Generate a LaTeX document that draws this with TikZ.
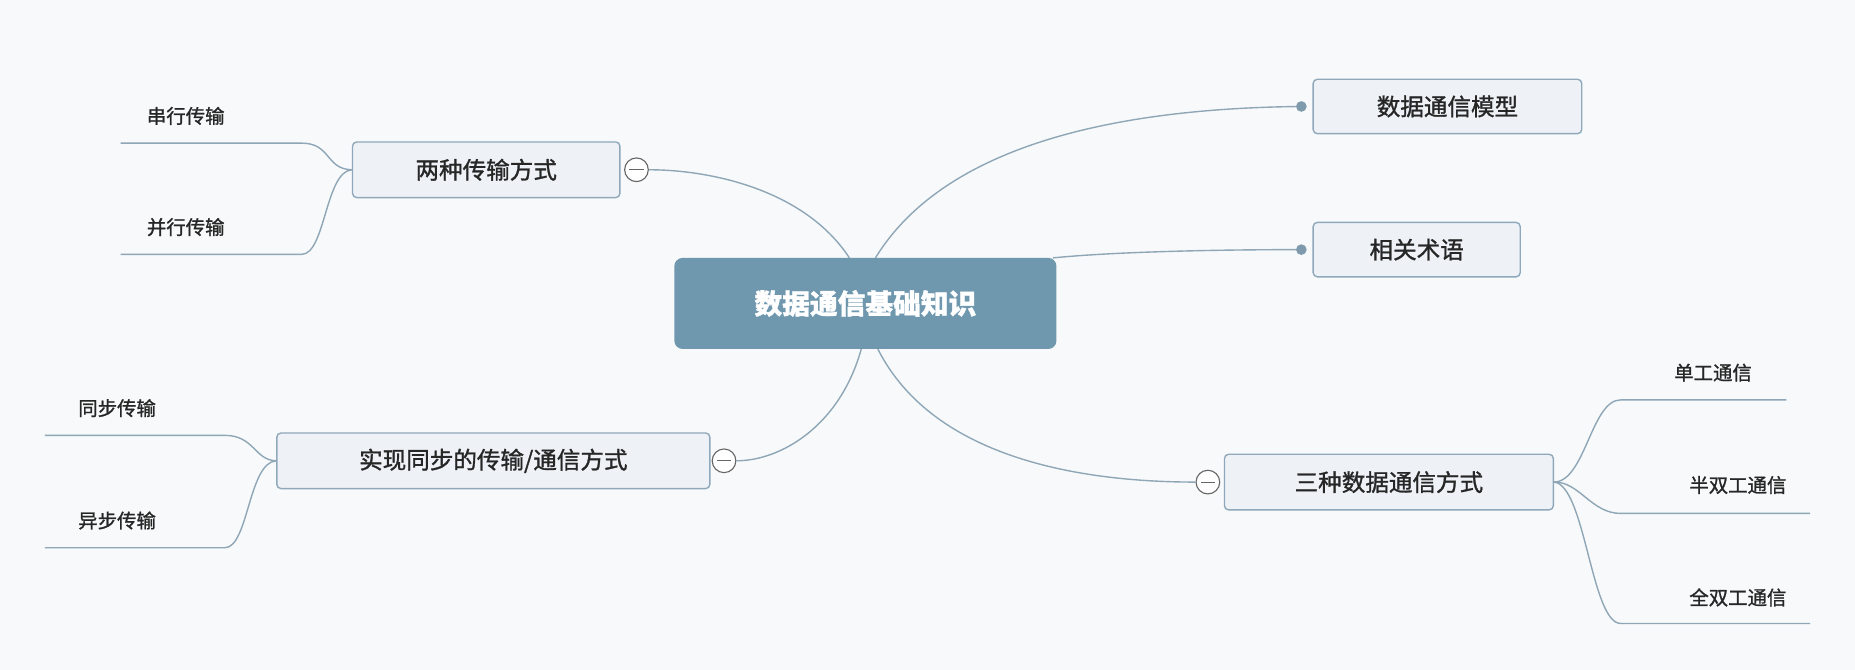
\documentclass[tikz,border=0pt]{standalone}
\usepackage{fontspec}
\setmainfont{Noto Sans CJK SC}[FakeBold=1.2]
\begin{document}
\begin{tikzpicture}[x=0.03cm,y=-0.03cm,
  bx/.style={draw=boxline,fill=boxfill,rounded corners=3pt,line width=1pt,inner sep=0pt,font=\fontsize{17}{19}\selectfont,text=black!85},
  lf/.style={inner sep=0pt,font=\fontsize{14}{16}\selectfont,text=black!85},
  ln/.style={draw=conn,line width=1pt},
  cc/.style={circle,draw=gray!80!black,fill=white,line width=0.8pt,minimum size=0.6cm,inner sep=0pt},
  dt/.style={circle,fill=dotc,minimum size=0.27cm,inner sep=0pt}]
\definecolor{bg}{HTML}{F7F9FA}
\definecolor{boxfill}{HTML}{EEF2F6}
\definecolor{boxline}{HTML}{8FA8BB}
\definecolor{conn}{HTML}{8EA6B6}
\definecolor{cen}{HTML}{6F98AF}
\definecolor{dotc}{HTML}{7F9AAD}
\fill[bg] (0,0) rectangle (1568,566);
\useasboundingbox (0,0) rectangle (1568,566);
% central
\node[fill=cen,rounded corners=6pt,minimum width=323*0.03cm,minimum height=77*0.03cm,text=white,font=\fontsize{20}{22}\selectfont\bfseries] (c) at (731.5,256.5) {数据通信基础知识};
% right
\node[bx,minimum width=227*0.03cm,minimum height=46*0.03cm] (m) at (1223.5,90) {数据通信模型};
\node[dt] (dm) at (1100,90) {};
\node[bx,minimum width=175*0.03cm,minimum height=46*0.03cm] (t) at (1197.5,211) {相关术语};
\node[dt] (dtt) at (1100,211) {};
\node[bx,minimum width=278*0.03cm,minimum height=47*0.03cm] (s) at (1174,407.5) {三种数据通信方式};
\node[cc] (cs) at (1021,407.5) {};
\draw[gray!80!black,line width=0.8pt] (1015,407.5) -- (1027,407.5);
% left
\node[bx,minimum width=226*0.03cm,minimum height=47*0.03cm] (l) at (411,143.5) {两种传输方式};
\node[cc] (cl) at (538,143.5) {};
\draw[gray!80!black,line width=0.8pt] (532,143.5) -- (544,143.5);
\node[bx,minimum width=366*0.03cm,minimum height=47*0.03cm] (r) at (417,389.5) {实现同步的传输/通信方式};
\node[cc] (cr) at (612,389.5) {};
\draw[gray!80!black,line width=0.8pt] (606,389.5) -- (618,389.5);
% main connectors
\coordinate (c1) at (740,218); \coordinate (c2) at (890,218);
\coordinate (c3) at (742,295); \coordinate (c4) at (718,218); \coordinate (c5) at (728,295);
\draw[ln] (c1) .. controls (800,120) and (950,92) .. (dm);
\draw[ln] (c2) .. controls (950,212) and (1050,211) .. (dtt);
\draw[ln] (c3) .. controls (790,390) and (920,407.5) .. (cs.west);
\draw[ln] (c4) .. controls (680,160) and (600,143.5) .. (cl.east);
\draw[ln] (c5) .. controls (710,360) and (660,389.5) .. (cr.east);
% right leaves
\node[lf] (a1) at (1448,315) {单工通信};
\node[lf] (a2) at (1469,410) {半双工通信};
\node[lf] (a3) at (1469,505) {全双工通信};
\coordinate (e1) at (1510,338); \coordinate (e2) at (1530,434); \coordinate (e3) at (1530,527);
\draw[ln] (s.east) .. controls (1340,407) and (1345,338) .. (1370,338) -- (e1);
\draw[ln] (s.east) .. controls (1335,407) and (1345,434) .. (1370,434) -- (e2);
\draw[ln] (s.east) .. controls (1340,410) and (1345,527) .. (1370,527) -- (e3);
% left leaves
\node[lf] (b1) at (157,98) {串行传输};
\node[lf] (b2) at (157,192) {并行传输};
\coordinate (f1) at (102,121); \coordinate (f2) at (102,215);
\draw[ln] (l.west) .. controls (275,143) and (280,121) .. (255,121) -- (f1);
\draw[ln] (l.west) .. controls (275,145) and (275,215) .. (255,215) -- (f2);
\node[lf] (d1) at (99,345) {同步传输};
\node[lf] (d2) at (99,440) {异步传输};
\coordinate (g1) at (38,368); \coordinate (g2) at (38,463);
\draw[ln] (r.west) .. controls (215,389) and (215,368) .. (190,368) -- (g1);
\draw[ln] (r.west) .. controls (210,391) and (210,463) .. (190,463) -- (g2);
\end{tikzpicture}
\end{document}
